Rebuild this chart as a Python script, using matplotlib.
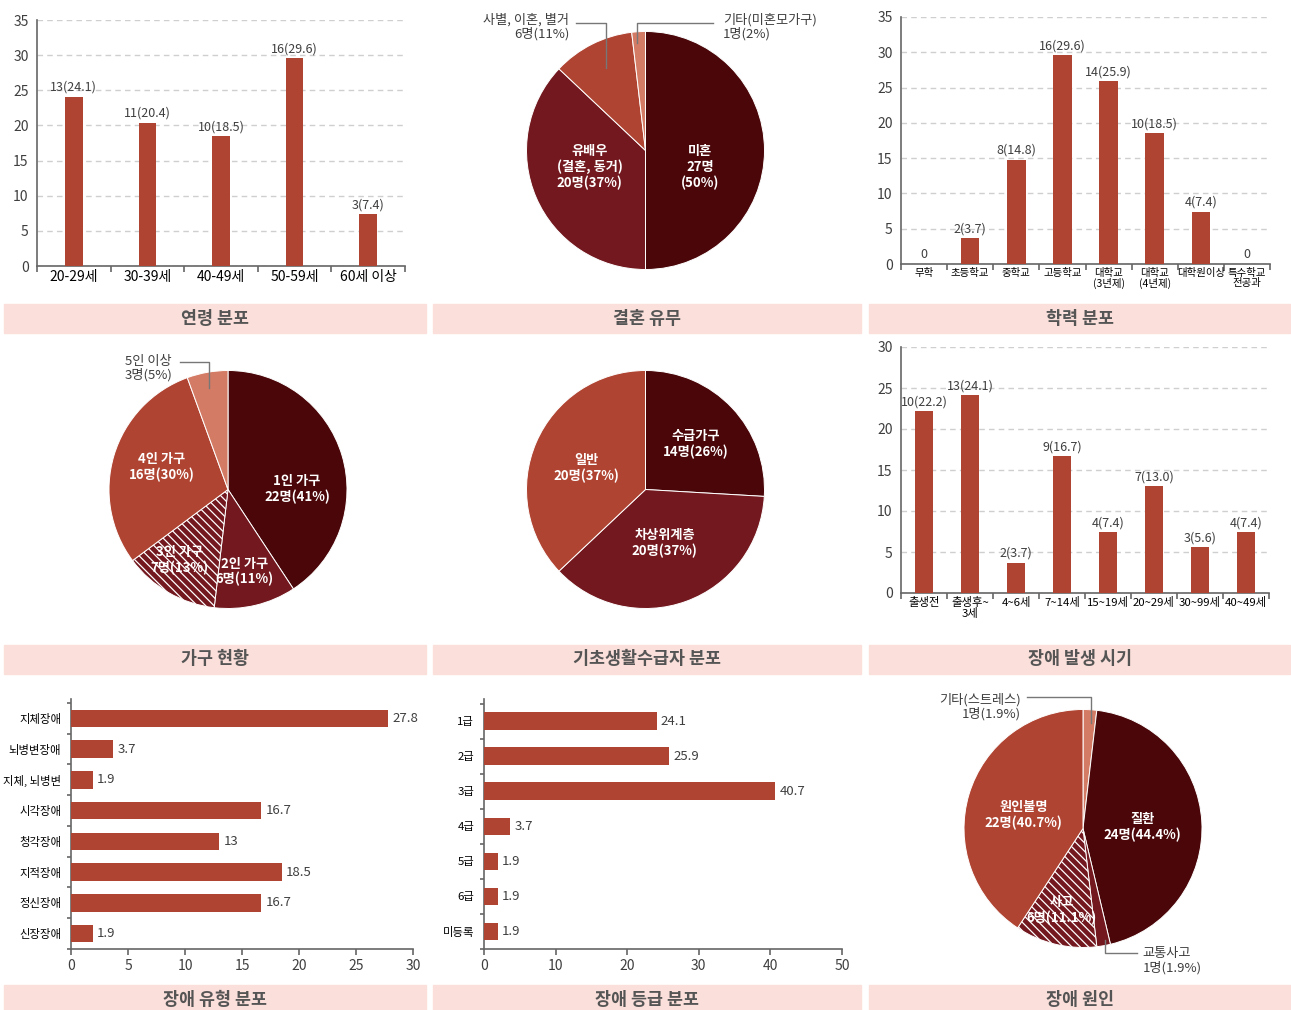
import matplotlib
matplotlib.use('Agg')
import matplotlib.pyplot as plt
from matplotlib.patches import Rectangle

plt.rcParams['font.family'] = ['Noto Sans CJK KR', 'DejaVu Sans']
plt.rcParams['hatch.linewidth'] = 0.9

# ---- data ----
age_labels = ['20-29세', '30-39세', '40-49세', '50-59세', '60세 이상']
age_counts = [13, 11, 10, 16, 3]
age_pct = [24.1, 20.4, 18.5, 29.6, 7.4]

marry_names = ['미혼', '유배우\n(결혼, 동거)', '사별, 이혼, 별거', '기타(미혼모가구)']
marry_counts = [27, 20, 6, 1]
marry_pct = [50, 37, 11, 2]

edu_labels = ['무학', '초등학교', '중학교', '고등학교', '대학교\n(3년제)',
              '대학교\n(4년제)', '대학원이상', '특수학교\n전공과']
edu_counts = [0, 2, 8, 16, 14, 10, 4, 0]
edu_pct = [0, 3.7, 14.8, 29.6, 25.9, 18.5, 7.4, 0]

house_names = ['1인 가구', '2인 가구', '3인 가구', '4인 가구', '5인 이상']
house_counts = [22, 6, 7, 16, 3]
house_pct = [41, 11, 13, 30, 5]

basic_names = ['수급가구', '차상위계층', '일반']
basic_counts = [14, 20, 20]
basic_pct = [26, 37, 37]

onset_labels = ['출생전', '출생후~\n3세', '4~6세', '7~14세', '15~19세',
                '20~29세', '30~99세', '40~49세']
onset_counts = [10, 13, 2, 9, 4, 7, 3, 4]
onset_pct = [22.2, 24.1, 3.7, 16.7, 7.4, 13.0, 5.6, 7.4]

type_labels = ['지체장애', '뇌병변장애', '지체, 뇌병변', '시각장애', '청각장애',
               '지적장애', '정신장애', '신장장애']
type_pct = [27.8, 3.7, 1.9, 16.7, 13, 18.5, 16.7, 1.9]

grade_labels = ['1급', '2급', '3급', '4급', '5급', '6급', '미등록']
grade_pct = [24.1, 25.9, 40.7, 3.7, 1.9, 1.9, 1.9]

cause_names = ['기타(스트레스)', '질환', '교통사고', '사고', '원인불명']
cause_counts = [1, 24, 1, 6, 22]
cause_pct = [1.9, 44.4, 1.9, 11.1, 40.7]

titles = ['연령 분포', '결혼 유무', '학력 분포', '가구 현황', '기초생활수급자 분포',
          '장애 발생 시기', '장애 유형 분포', '장애 등급 분포', '장애 원인']

# ---- style ----
BAR = '#B04432'
DARK = '#4A0609'
MID = '#72181E'
RED = '#B04432'
LIGHT = '#D47B65'
TXT = '#3f3f3f'
AXC = '#666666'
BANNER = '#FADFDA'

W, H = 1291, 1010
fig = plt.figure(figsize=(W / 100, H / 100), dpi=100)


def px_axes(x0, y0, x1, y1):
    ax = fig.add_axes([x0 / W, 1 - y1 / H, (x1 - x0) / W, (y1 - y0) / H])
    ax.patch.set_visible(False)
    return ax


def style_spines(ax):
    for s in ['top', 'right']:
        ax.spines[s].set_visible(False)
    for s in ['left', 'bottom']:
        ax.spines[s].set_color(AXC)
        ax.spines[s].set_linewidth(1.2)
    ax.tick_params(colors=AXC, labelcolor=TXT)


def vbar(ax, labels, counts, pct, ymax, width, xfs):
    x = list(range(len(labels)))
    ax.bar(x, pct, width=width, color=BAR, zorder=3)
    for xi, c, p in zip(x, counts, pct):
        txt = f'{c}({p:.1f})' if c else '0'
        ax.annotate(txt, (xi, p), xytext=(0, 2), textcoords='offset points',
                    ha='center', va='bottom', fontsize=9, color=TXT)
    ax.set_xlim(-0.5, len(labels) - 0.5)
    ax.set_ylim(0, ymax)
    ax.set_yticks(range(0, ymax + 1, 5))
    ax.set_xticks([i - 0.5 for i in range(len(labels) + 1)], [''] * (len(labels) + 1))
    ax.set_xticks(x, labels, minor=True, fontsize=xfs, linespacing=0.95)
    ax.tick_params(axis='x', which='minor', length=0, pad=3)
    ax.tick_params(axis='x', which='major', length=4, width=1.2)
    ax.tick_params(axis='y', length=0, labelsize=10, pad=6)
    ax.grid(axis='y', ls=(0, (4, 3)), color='#cfcfcf', lw=1, zorder=0)
    style_spines(ax)


def hbar(ax, labels, vals, xmax, step, height):
    y = list(range(len(labels)))
    ax.barh(y, vals, height=height, color=BAR, zorder=3)
    for yi, v in zip(y, vals):
        ax.annotate(f'{v:g}', (v, yi), xytext=(3, 0), textcoords='offset points',
                    ha='left', va='center', fontsize=9.5, color=TXT)
    ax.set_ylim(len(labels) - 0.51, -0.63)
    ax.set_xlim(0, xmax)
    ax.set_xticks(range(0, xmax + 1, step))
    ax.set_yticks([i - 0.5 for i in range(len(labels) + 1)], [''] * (len(labels) + 1))
    ax.set_yticks(y, labels, minor=True, fontsize=8.2)
    ax.tick_params(axis='y', which='minor', length=0, pad=7)
    ax.tick_params(axis='y', which='major', length=3, width=1.2)
    ax.tick_params(axis='x', length=4, width=1.2, labelsize=10, pad=3)
    style_spines(ax)


R = 119


def pie_axes(cx, cy, half=2.0):
    return px_axes(cx - half * R, cy - half * R, cx + half * R, cy + half * R)


def pie(ax, counts, colors, hatch_idx=None, half=2.0):
    wedges, _ = ax.pie(counts, colors=colors, startangle=90, counterclock=False,
                       wedgeprops=dict(edgecolor='white', linewidth=0.7))
    if hatch_idx is not None:
        wedges[hatch_idx].set_hatch('\\\\\\\\')
    ax.set_xlim(-half, half)
    ax.set_ylim(-half, half)
    ax.set_aspect('equal')
    ax.axis('off')
    return wedges


def inner(ax, x, y, text):
    ax.text(x, y, text, ha='center', va='center', fontsize=9.5, color='white',
            fontweight='bold', linespacing=1.15)


def callout(ax, tx, ty, ha, text, xs, ys):
    ax.text(tx, ty, text, ha=ha, va='center', fontsize=9.5, color=TXT, linespacing=1.05)
    ax.plot(xs, ys, color='#777777', lw=1, clip_on=False)


# ---- row 1 ----
ax = px_axes(37, 20, 405, 266)
vbar(ax, age_labels, age_counts, age_pct, 35, 0.24, 10)

ax = pie_axes(645.5, 150.5)
pie(ax, marry_counts, [DARK, MID, RED, LIGHT])
inner(ax, 0.46, -0.14, f'{marry_names[0]}\n{marry_counts[0]}명\n({marry_pct[0]}%)')
inner(ax, -0.47, -0.14, f'{marry_names[1]}\n{marry_counts[1]}명({marry_pct[1]}%)')
callout(ax, -0.64, 1.04, 'right', f'{marry_names[2]}\n{marry_counts[2]}명({marry_pct[2]}%)',
        [-0.58, -0.33, -0.33], [1.07, 1.07, 0.69])
callout(ax, 0.65, 1.04, 'left', f'{marry_names[3]}\n{marry_counts[3]}명({marry_pct[3]}%)',
        [0.57, -0.07, -0.07], [1.07, 1.07, 0.90])

ax = px_axes(901, 17, 1270, 264)
vbar(ax, edu_labels, edu_counts, edu_pct, 35, 0.4, 7.5)

# ---- row 2 ----
ax = pie_axes(228, 489.5)
pie(ax, house_counts, [DARK, MID, MID, RED, LIGHT], hatch_idx=2)
for (x, y), n, c, p in zip([(0.58, 0.0), (0.14, -0.69), (-0.41, -0.59), (-0.56, 0.19)],
                           house_names, house_counts, house_pct):
    inner(ax, x, y, f'{n}\n{c}명({p}%)')
callout(ax, -0.47, 1.02, 'right', f'{house_names[4]}\n{house_counts[4]}명({house_pct[4]}%)',
        [-0.40, -0.16, -0.16], [1.07, 1.07, 0.85])

ax = pie_axes(645.5, 489.5)
pie(ax, basic_counts, [DARK, MID, RED])
for (x, y), n, c, p in zip([(0.42, 0.38), (0.16, -0.45), (-0.50, 0.18)],
                           basic_names, basic_counts, basic_pct):
    inner(ax, x, y, f'{n}\n{c}명({p}%)')

ax = px_axes(901, 347, 1269, 593)
vbar(ax, onset_labels, onset_counts, onset_pct, 30, 0.38, 8.2)

# ---- row 3 ----
ax = px_axes(71, 699, 413, 949)
hbar(ax, type_labels, type_pct, 30, 5, 0.57)

ax = px_axes(484, 699, 842, 949)
hbar(ax, grade_labels, grade_pct, 50, 10, 0.5)

ax = pie_axes(1083, 828.5)
pie(ax, cause_counts, [LIGHT, DARK, MID, MID, RED], hatch_idx=3)
for i, (x, y) in zip([1, 4, 3], [(0.50, 0.015), (-0.50, 0.11), (-0.18, -0.685)]):
    inner(ax, x, y, f'{cause_names[i]}\n{cause_counts[i]}명({cause_pct[i]}%)')
callout(ax, -0.52, 1.02, 'right', f'{cause_names[0]}\n{cause_counts[0]}명({cause_pct[0]}%)',
        [-0.47, 0.067, 0.067], [1.105, 1.105, 0.89])
callout(ax, 0.50, -1.11, 'left', f'{cause_names[2]}\n{cause_counts[2]}명({cause_pct[2]}%)',
        [0.185, 0.185, 0.45], [-0.94, -1.046, -1.046])

# ---- banners ----
cols = [(4, 426), (433, 861), (869, 1290)]
rows = [(304, 333), (645, 674), (985, 1016)]
for k, t in enumerate(titles):
    (x0, x1), (y0, y1) = cols[k % 3], rows[k // 3]
    fig.patches.append(Rectangle((x0 / W, 1 - y1 / H), (x1 - x0) / W, (y1 - y0) / H,
                                 transform=fig.transFigure, color=BANNER, zorder=0))
    yc = (y0 + y1) / 2 if k < 6 else 1000
    fig.text((x0 + x1) / 2 / W, 1 - yc / H, t, ha='center', va='center',
             fontsize=12.5, fontweight='bold', color='#555555')

fig.savefig('out.png', dpi=100)
